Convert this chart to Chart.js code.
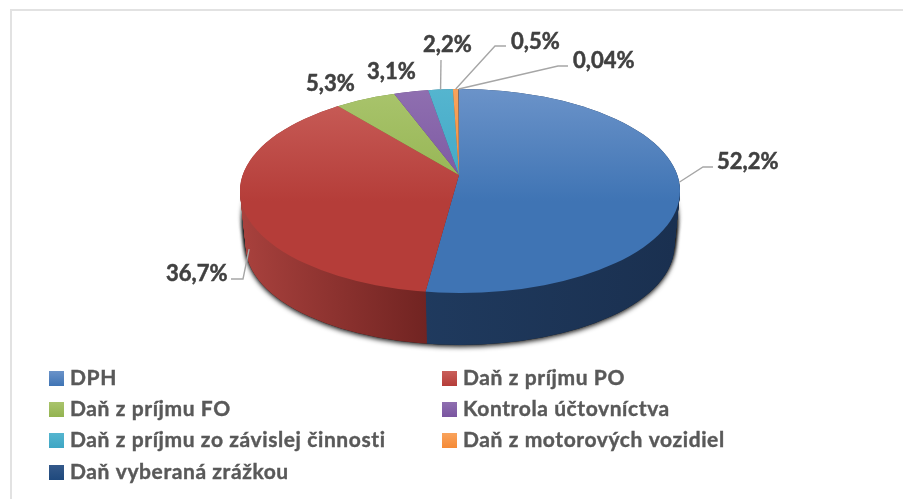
<!DOCTYPE html>
<html>
<head>
<meta charset="utf-8">
<title>Dane</title>
<script src="https://cdn.jsdelivr.net/npm/chart.js@4"></script>
<style>
  html, body { margin: 0; padding: 0; background: #fff; }
  canvas { display: block; }
</style>
</head>
<body>
<canvas id="taxPie" width="903" height="499"></canvas>
<script>
const categories = [
  'DPH',
  'Daň z príjmu PO',
  'Daň z príjmu FO',
  'Kontrola účtovníctva',
  'Daň z príjmu zo závislej činnosti',
  'Daň z motorových vozidiel',
  'Daň vyberaná zrážkou'
];
const shares = [52.2, 36.7, 5.3, 3.1, 2.2, 0.5, 0.04];

// top face colours, light edge -> darker edge
const topLight = ['#6b93c9', '#c95f5a', '#a9c46c', '#8f6fb0', '#55b5cf', '#f9a35c', '#34598a'];
const topDark = ['#3f74b4', '#b53d39', '#93b350', '#7a55a0', '#3ea6c4', '#f58a36', '#1f497d'];
// side wall colours, left -> right
const wallLeft = ['#234168', '#a8413d', '#76903f', '#5f4180', '#2f8199', '#c06a24', '#17365c'];
const wallRight = ['#1a3050', '#6e2220', '#5c7030', '#4a3264', '#246478', '#96521c', '#102847'];

// pie geometry on the page
const pie = { cx: 460, cy: 191, rx: 220, ry: 102, apexX: 459, apexY: 175, squash: 0.48, depth: 56, shrinkX: 6, shrinkY: 4 };

// label box left/middle, then optional elbow points of the leader line
const valueLabels = [
  { x: 717, y: 162, line: [[703, 167], [713, 167]] },
  { x: 166, y: 274, line: [[243, 279], [231, 279]], off: [7, 44] },
  { x: 306, y: 84 },
  { x: 367, y: 72 },
  { x: 423, y: 45, line: [[441, 60]] },
  { x: 511, y: 42, line: [[495, 46], [506, 46]] },
  { x: 573, y: 61, line: [[558, 66], [568, 66]] }
];
const legendCols = [49, 442];
const legendRows = [378, 409, 440, 472];

function ellipsePath(ctx, cx, cy, rx, ry) {
  ctx.beginPath();
  ctx.ellipse(cx, cy, rx, ry, 0, 0, Math.PI * 2);
}

function layerAt(t) {
  return {
    cx: pie.cx,
    cy: pie.cy + pie.depth * t,
    rx: pie.rx - pie.shrinkX * t,
    ry: pie.ry - pie.shrinkY * t,
    apexY: pie.apexY + pie.depth * t,
    k: (pie.rx - pie.shrinkX * t) / pie.rx
  };
}

function toPie(ctx, center, l) {
  ctx.translate(pie.apexX, l.apexY);
  ctx.scale(l.k, pie.squash * l.k);
  ctx.translate(-center.x, -center.y);
}

function topFill(context) {
  const chart = context.chart;
  const i = context.dataIndex;
  if (!chart.chartArea || i === undefined) return topDark[0];
  const midY = (chart.chartArea.top + chart.chartArea.bottom) / 2;
  const y0 = midY + (89 - pie.apexY) / pie.squash;
  const y1 = midY + (293 - pie.apexY) / pie.squash;
  const g = chart.ctx.createLinearGradient(0, y0, 0, y1);
  g.addColorStop(0, topLight[i]);
  g.addColorStop(0.55, topDark[i]);
  g.addColorStop(1, topDark[i]);
  return g;
}

function rimPoint(arc) {
  // ray from the apex to the edge of the top ellipse
  const mid = (arc.startAngle + arc.endAngle) / 2;
  const dx = Math.cos(mid);
  const dy = Math.sin(mid) * pie.squash;
  const px = (pie.apexX - pie.cx) / pie.rx;
  const py = (pie.apexY - pie.cy) / pie.ry;
  const ux = dx / pie.rx;
  const uy = dy / pie.ry;
  const a = ux * ux + uy * uy;
  const b = 2 * (px * ux + py * uy);
  const c = px * px + py * py - 1;
  const t = (-b + Math.sqrt(b * b - 4 * a * c)) / (2 * a);
  return [pie.apexX + dx * t, pie.apexY + dy * t];
}

const pie3d = {
  id: 'pie3d',
  beforeDatasetsDraw(chart) {
    const ctx = chart.ctx;
    const arcs = chart.getDatasetMeta(0).data;
    const center = arcs[0];

    // soft shadow under the wall
    ctx.save();
    ctx.shadowColor = 'rgba(0,0,0,0.85)';
    ctx.shadowBlur = 5;
    ctx.shadowOffsetY = 2;
    ctx.fillStyle = '#222';
    [0.4, 0.5, 0.6, 0.7, 0.8, 0.9, 1].forEach(t => {
      const l = layerAt(t);
      ellipsePath(ctx, l.cx, l.cy, l.rx, l.ry);
      ctx.fill();
    });
    ctx.restore();

    // side wall, stacked from the bottom layer up
    const walls = arcs.map((arc, i) => {
      const g = ctx.createLinearGradient(center.x - 220, 0, center.x + 220, 0);
      g.addColorStop(0, wallLeft[i]);
      g.addColorStop(i === 1 ? 0.45 : 1, wallRight[i]);
      return g;
    });
    for (let d = pie.depth; d >= 0; d--) {
      const l = layerAt(d / pie.depth);
      ctx.save();
      ellipsePath(ctx, l.cx, l.cy, l.rx, l.ry);
      ctx.clip();
      toPie(ctx, center, l);
      arcs.forEach((arc, i) => {
        ctx.fillStyle = walls[i];
        ctx.beginPath();
        ctx.moveTo(arc.x, arc.y);
        ctx.arc(arc.x, arc.y, arc.outerRadius, arc.startAngle, arc.endAngle);
        ctx.closePath();
        ctx.fill();
      });
      ctx.restore();
    }

    // the library draws the top face inside this clip
    ctx.save();
    ellipsePath(ctx, pie.cx, pie.cy, pie.rx, pie.ry);
    ctx.clip();
    toPie(ctx, center, layerAt(0));
  },
  afterDatasetsDraw(chart) {
    chart.ctx.restore();
  },
  afterDraw(chart) {
    const ctx = chart.ctx;
    const arcs = chart.getDatasetMeta(0).data;

    // frame
    ctx.fillStyle = '#e2e2e2';
    ctx.fillRect(10, 9, 893, 2);
    ctx.fillRect(10, 9, 2, 490);

    // leader lines
    ctx.strokeStyle = '#a6a6a6';
    ctx.lineWidth = 1.4;
    valueLabels.forEach((lab, i) => {
      if (!lab.line) return;
      const p = rimPoint(arcs[i]);
      const off = lab.off || [0, 0];
      ctx.beginPath();
      ctx.moveTo(p[0] + off[0], p[1] + off[1]);
      lab.line.forEach(pt => ctx.lineTo(pt[0], pt[1]));
      ctx.stroke();
    });

    // value labels, a thin stroke brings the weight up
    ctx.font = 'bold 22px Lato';
    ctx.fillStyle = '#404040';
    ctx.strokeStyle = '#404040';
    ctx.lineWidth = 0.5;
    ctx.textBaseline = 'middle';
    ctx.textAlign = 'left';
    shares.forEach((v, i) => {
      const text = String(v).replace('.', ',') + '%';
      ctx.fillText(text, valueLabels[i].x, valueLabels[i].y);
      ctx.strokeText(text, valueLabels[i].x, valueLabels[i].y);
    });

    // two column legend
    ctx.font = 'bold 21px Lato';
    ctx.letterSpacing = '0.6px';
    ctx.strokeStyle = '#595959';
    ctx.lineWidth = 0.4;
    categories.forEach((name, i) => {
      const x = legendCols[i % 2];
      const y = legendRows[Math.floor(i / 2)];
      const g = ctx.createLinearGradient(0, y - 7, 0, y + 8);
      g.addColorStop(0, topLight[i]);
      g.addColorStop(1, topDark[i]);
      ctx.fillStyle = g;
      ctx.fillRect(x, y - 7, 15, 15);
      ctx.fillStyle = '#595959';
      ctx.fillText(name, x + 21, y);
      ctx.strokeText(name, x + 21, y);
    });
    ctx.letterSpacing = '0px';
  }
};

var taxChart = new Chart(document.getElementById('taxPie'), {
  type: 'pie',
  data: {
    labels: categories,
    datasets: [{
      data: shares,
      backgroundColor: topFill,
      borderWidth: 0,
      clip: false,
      radius: 300
    }]
  },
  options: {
    responsive: false,
    animation: false,
    events: [],
    plugins: {
      legend: { display: false },
      tooltip: { enabled: false }
    }
  },
  plugins: [pie3d]
});
</script>
</body>
</html>
